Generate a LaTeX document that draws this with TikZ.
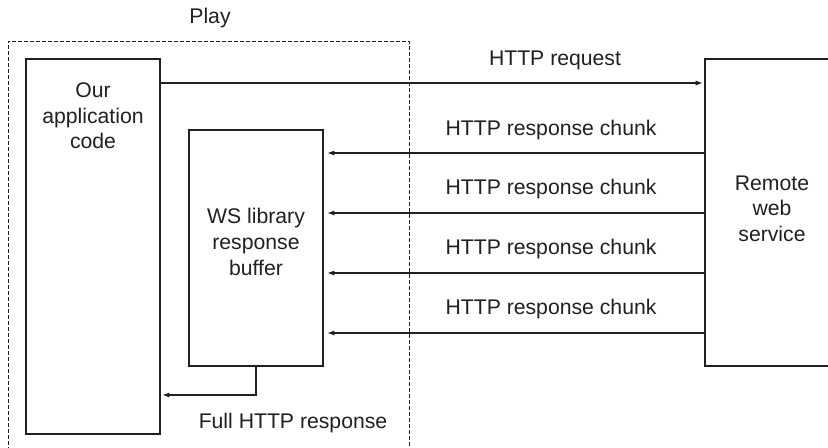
\documentclass[tikz,border=0pt]{standalone}
\usepackage{fontspec}
\setmainfont{Liberation Sans}
\usepackage{tikz}
\usetikzlibrary{arrows.meta, positioning}
\definecolor{InkDark}{HTML}{231F20}
\tikzset{
  bx/.style={rectangle, draw=InkDark, line width=0.6pt, minimum width=67pt, inner sep=0pt},
  lbl/.style={align=center, font=\fontsize{10.6}{12.8}\selectfont, text=InkDark, inner sep=0pt},
  arr/.style={-{Latex[length=3.6pt, width=2.6pt]}, line width=0.6pt, color=InkDark, shorten >=0.8pt},
  cont/.style={rectangle, draw=InkDark, line width=0.45pt, dash pattern=on 2pt off 1pt, inner sep=0pt},
}
\begin{document}
\begin{tikzpicture}[x=0.5pt, y=-0.5pt]
  \useasboundingbox (0,0) rectangle (828,447);
  \clip (0,0) rectangle (828,447);

  % Play container
  \node[cont, minimum width=200.5pt, minimum height=215pt, anchor=north west] (play) at (8,41) {};
  \node[lbl] (playlbl) at (210,18) {Play};

  % Boxes
  \node[bx, minimum height=187.5pt] (app) at (93,246.5) {};
  \node[lbl, anchor=north] (apptxt) at ([yshift=-12pt]app.north) {Our\\application\\code};

  \node[bx, minimum height=118pt] (buf) at (256,248) {};
  \node[lbl] (buftxt) at ([yshift=3pt]buf.center) {WS library\\response\\buffer};

  \node[bx, minimum height=153.5pt] (remote) at (772,212.5) {};
  \node[lbl] (remtxt) at ([yshift=2pt]remote.center) {Remote\\web\\service};

  % Labels
  \node[lbl] (reqlbl) at (555,60) {HTTP request};
  \node[lbl] (ch1) at (551,130) {HTTP response chunk};
  \node[lbl] (ch2) at (551,189) {HTTP response chunk};
  \node[lbl] (ch3) at (551,249) {HTTP response chunk};
  \node[lbl] (ch4) at (551,309) {HTTP response chunk};
  \node[lbl] (fulllbl) at (293,423) {Full HTTP response};

  % Arrows
  \draw[arr] (app.east |- 0,83) -- (remote.west |- 0,83);
  \draw[arr] (remote.west |- 0,153) -- ([xshift=1pt]buf.east |- 0,153);
  \draw[arr] (remote.west |- 0,213) -- ([xshift=1pt]buf.east |- 0,213);
  \draw[arr] (remote.west |- 0,273) -- ([xshift=1pt]buf.east |- 0,273);
  \draw[arr] (remote.west |- 0,333) -- ([xshift=1pt]buf.east |- 0,333);
  \draw[arr] (buf.south) |- (app.east |- 0,395);

\end{tikzpicture}
\end{document}
